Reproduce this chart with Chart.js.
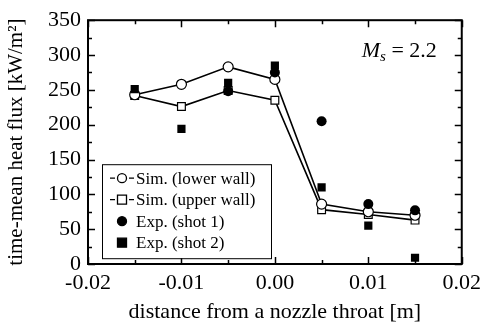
<!DOCTYPE html>
<html>
<head>
<meta charset="utf-8">
<script src="https://cdn.jsdelivr.net/npm/chart.js@4/dist/chart.umd.min.js"></script>
<style>
  html, body { margin: 0; padding: 0; background: #fff; }
  #wrap { width: 487px; height: 329px; }
</style>
</head>
<body>
<div id="wrap"><canvas id="c" width="487" height="329"></canvas></div>
<script>
// data
const xPos       = [-0.015, -0.01, -0.005, 0.0, 0.005, 0.01, 0.015];
const simLower   = [243, 258, 283, 265, 86, 75, 70];
const simUpper   = [242, 226, 249, 235, 78, 71, 63];
const expX       = [-0.015, -0.01, -0.005, 0.0, 0.005, 0.01, 0.015];
const expShot1   = [null, null, 248, 275, 205, 86, 77];
const expShot2   = [251, 194, 260, 285, 110, 55, 9];
const xTicks     = [-0.02, -0.01, 0.00, 0.01, 0.02];
const yTicks     = [0, 50, 100, 150, 200, 250, 300, 350];
const legendText = ['Sim. (lower wall)', 'Sim. (upper wall)', 'Exp. (shot 1)', 'Exp. (shot 2)'];

const SERIF = '"Liberation Serif", "DejaVu Serif", serif';
const pts = (xs, ys) => xs.map((x, i) => ({ x, y: ys[i] })).filter(p => p.y !== null);

// frame, inward ticks on all four sides
const frame = {
  id: 'frame',
  afterDraw(chart) {
    const { ctx, chartArea: a, scales: { x, y } } = chart;
    ctx.save();
    ctx.strokeStyle = '#000';
    ctx.lineWidth = 1.5;
    for (let v = -0.02; v <= 0.0201; v += 0.005) {
      const px = Math.round(x.getPixelForValue(v)) + 0.5;
      const major = Math.abs(Math.round(v * 100) - v * 100) < 1e-6;
      const len = major ? 7 : 4;
      ctx.beginPath();
      ctx.moveTo(px, a.bottom); ctx.lineTo(px, a.bottom - len);
      ctx.moveTo(px, a.top); ctx.lineTo(px, a.top + len);
      ctx.stroke();
    }
    for (let v = 0; v <= 350; v += 25) {
      const py = Math.round(y.getPixelForValue(v)) + 0.5;
      const len = v % 50 === 0 ? 7 : 4;
      ctx.beginPath();
      ctx.moveTo(a.left, py); ctx.lineTo(a.left + len, py);
      ctx.moveTo(a.right, py); ctx.lineTo(a.right - len, py);
      ctx.stroke();
    }
    ctx.lineWidth = 2;
    ctx.strokeRect(a.left, a.top, a.right - a.left, a.bottom - a.top);

    // M_s = 2.2
    ctx.fillStyle = '#000';
    ctx.textBaseline = 'alphabetic';
    const bx = a.right - 100, by = a.top + 37;
    ctx.font = 'italic 22px ' + SERIF;
    ctx.fillText('M', bx, by);
    const mw = ctx.measureText('M').width;
    ctx.font = 'italic 15px ' + SERIF;
    ctx.fillText('s', bx + mw, by + 4);
    const sw = ctx.measureText('s').width;
    ctx.font = '22px ' + SERIF;
    ctx.fillText(' = 2.2', bx + mw + sw, by);

    // legend box
    const lx = a.left + 14, ly = a.top + 144, lw = 169, lh = 94;
    ctx.fillStyle = '#fff';
    ctx.fillRect(lx, ly, lw, lh);
    ctx.lineWidth = 1;
    ctx.strokeRect(lx + 0.5, ly + 0.5, lw, lh);
    ctx.font = '17px ' + SERIF;
    ctx.textBaseline = 'middle';
    chart.data.datasets.forEach((ds, i) => {
      const cy = ly + 14 + i * 21.5, mx = lx + 20;
      ctx.strokeStyle = '#000';
      ctx.lineWidth = 1.3;
      if (ds.showLine) {
        ctx.beginPath();
        ctx.moveTo(mx - 12, cy); ctx.lineTo(mx - 7, cy);
        ctx.moveTo(mx + 7, cy); ctx.lineTo(mx + 12, cy);
        ctx.stroke();
      }
      ctx.fillStyle = ds.pointBackgroundColor;
      ctx.beginPath();
      if (ds.pointStyle === 'rect') {
        ctx.rect(mx - 4.5, cy - 4.5, 9, 9);
      } else {
        ctx.arc(mx, cy, 4.5, 0, Math.PI * 2);
      }
      ctx.fill();
      ctx.stroke();
      ctx.fillStyle = '#000';
      ctx.fillText(legendText[i], mx + 14, cy + 1);
    });
    ctx.restore();
  }
};

new Chart(document.getElementById('c'), {
  type: 'scatter',
  data: {
    datasets: [
      { label: legendText[0], data: pts(xPos, simLower), showLine: true, order: 2,
        borderColor: '#000', borderWidth: 1.6, pointStyle: 'circle', pointRadius: 5,
        pointBackgroundColor: '#fff', pointBorderColor: '#000', pointBorderWidth: 1.2 },
      { label: legendText[1], data: pts(xPos, simUpper), showLine: true, order: 2,
        borderColor: '#000', borderWidth: 1.6, pointStyle: 'rect', pointRadius: 5.5,
        pointBackgroundColor: '#fff', pointBorderColor: '#000', pointBorderWidth: 1.2 },
      { label: legendText[2], data: pts(expX, expShot1), showLine: false, order: 1,
        pointStyle: 'circle', pointRadius: 5, pointBackgroundColor: '#000',
        pointBorderColor: '#000', pointBorderWidth: 0 },
      { label: legendText[3], data: pts(expX, expShot2), showLine: false, order: 1,
        pointStyle: 'rect', pointRadius: 5.8, pointBackgroundColor: '#000',
        pointBorderColor: '#000', pointBorderWidth: 0 }
    ]
  },
  options: {
    responsive: false,
    animation: false,
    layout: { padding: { top: 15, right: 20, left: 0, bottom: 0 } },
    plugins: { legend: { display: false }, tooltip: { enabled: false } },
    scales: {
      x: {
        type: 'linear', min: -0.02, max: 0.02,
        afterBuildTicks: s => { s.ticks = xTicks.map(v => ({ value: v })); },
        afterFit: s => { s.height = 65; },
        grid: { display: false, drawTicks: false },
        border: { display: false },
        ticks: { color: '#000', padding: 6, font: { family: SERIF, size: 22 },
                 maxRotation: 0, callback: v => v.toFixed(2) },
        title: { display: true, text: 'distance from a nozzle throat [m]', color: '#000',
                 font: { family: SERIF, size: 22 }, padding: { top: 5 } }
      },
      y: {
        min: 0, max: 350,
        afterBuildTicks: s => { s.ticks = yTicks.map(v => ({ value: v })); },
        afterFit: s => { s.width = 88; },
        grid: { display: false, drawTicks: false },
        border: { display: false },
        ticks: { color: '#000', padding: 7, font: { family: SERIF, size: 22 } },
        title: { display: true, text: 'time-mean heat flux [kW/m²]', color: '#000',
                 font: { family: SERIF, size: 21 }, padding: { bottom: 0 } }
      }
    }
  },
  plugins: [frame]
});
</script>
</body>
</html>
